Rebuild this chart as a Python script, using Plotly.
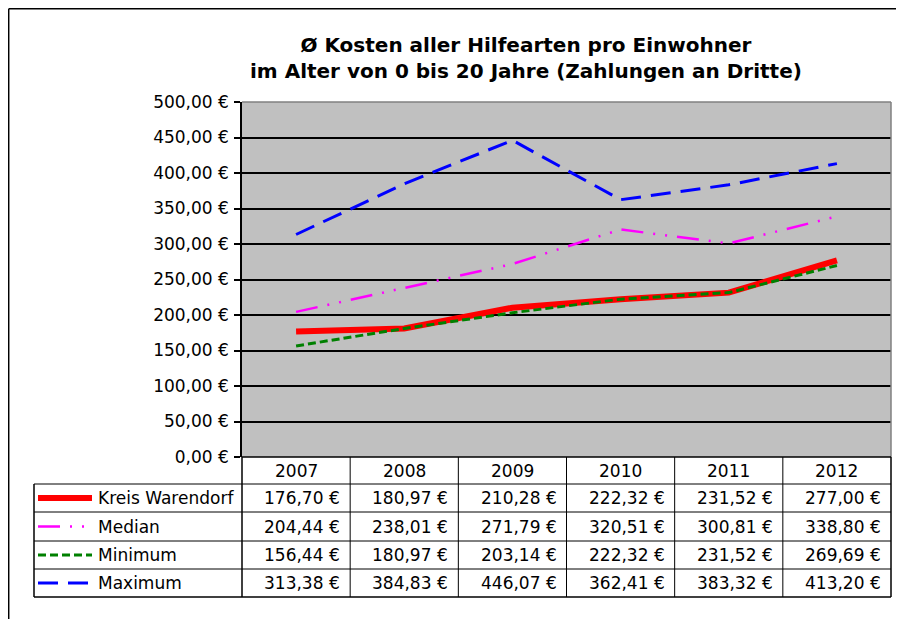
import plotly.graph_objects as go

# the page body adds an 8px offset; the figure is sized to fit the window
OFF = 8
W, H = 904 - OFF, 619 - OFF

years = ["2007", "2008", "2009", "2010", "2011", "2012"]
series_names = ["Kreis Warendorf", "Median", "Minimum", "Maximum"]
kreis_warendorf = [176.70, 180.97, 210.28, 222.32, 231.52, 277.00]
median = [204.44, 238.01, 271.79, 320.51, 300.81, 338.80]
minimum = [156.44, 180.97, 203.14, 222.32, 231.52, 269.69]
maximum = [313.38, 384.83, 446.07, 362.41, 383.32, 413.20]
y_ticks = [0, 50, 100, 150, 200, 250, 300, 350, 400, 450, 500]
title_lines = ["Ø Kosten aller Hilfearten pro Einwohner",
               "im Alter von 0 bis 20 Jahre (Zahlungen an Dritte)"]

FONT = "DejaVu Sans"


def eur(v):
    s = f"{v:,.2f}".replace(",", "X").replace(".", ",").replace("X", ".")
    return s + " €"


def px(x):
    return (x - OFF) / W


def py(y):
    return 1 - (y - OFF) / H


styles = [
    dict(color="#FF0000", width=6, dash="solid"),
    dict(color="#FF00FF", width=2.5, dash="22px,10px,2px,10px,2px,10px"),
    dict(color="#008000", width=3, dash="8px,4px"),
    dict(color="#0000FF", width=3, dash="20px,10px"),
]
all_series = [kreis_warendorf, median, minimum, maximum]
draw_order = [3, 1, 0, 2]

x_idx = list(range(len(years)))

fig = go.Figure()
for i in draw_order:
    fig.add_trace(go.Scatter(
        x=x_idx, y=all_series[i], mode="lines", name=series_names[i],
        line=styles[i], showlegend=False, hoverinfo="skip"))

# plot area geometry (screen pixels of the reference)
PL, PR, PT, PB = 242, 891, 102, 457
row_edges = [457, 484, 512, 541, 569, 597]
TL = 34

shapes = []
annotations = []

# outer frame
shapes.append(dict(type="line", xref="paper", yref="paper", x0=px(8.7), x1=1.01, y0=py(8.7), y1=py(8.7),
                   line=dict(color="#000000", width=1.5)))
shapes.append(dict(type="line", xref="paper", yref="paper", x0=px(8.7), x1=px(8.7), y0=py(8.7), y1=-0.01,
                   line=dict(color="#000000", width=1.5)))

# plot area right/top border (gray)
shapes.append(dict(type="line", xref="paper", yref="paper", x0=px(PR), x1=px(PR), y0=py(PT), y1=py(PB),
                   line=dict(color="#808080", width=1.5)))
shapes.append(dict(type="line", xref="paper", yref="paper", x0=px(PL), x1=px(PR), y0=py(PT), y1=py(PT),
                   line=dict(color="#808080", width=1.5)))

# table horizontal lines
for k, ye in enumerate(row_edges):
    x0 = PL if k == 0 else TL
    shapes.append(dict(type="line", xref="paper", yref="paper", x0=px(x0), x1=px(PR), y0=py(ye), y1=py(ye),
                       line=dict(color="#000000", width=1.5 if k in (0, len(row_edges) - 1) else 1)))
# table vertical lines
shapes.append(dict(type="line", xref="paper", yref="paper", x0=px(TL), x1=px(TL),
                   y0=py(row_edges[1]), y1=py(row_edges[-1]), line=dict(color="#000000", width=1.5)))
shapes.append(dict(type="line", xref="paper", yref="paper", x0=px(PL), x1=px(PL),
                   y0=py(PB), y1=py(row_edges[-1]), line=dict(color="#000000", width=1.5)))
shapes.append(dict(type="line", xref="paper", yref="paper", x0=px(PR), x1=px(PR),
                   y0=py(PB), y1=py(row_edges[-1]), line=dict(color="#000000", width=1.5)))
for i in range(1, len(years)):
    shapes.append(dict(type="line", xref="x", yref="paper", x0=i - 0.5, x1=i - 0.5,
                       y0=py(PB), y1=py(row_edges[-1]), line=dict(color="#000000", width=1)))

# header row (years)
hc = (row_edges[0] + row_edges[1]) / 2
for i, yr in enumerate(years):
    annotations.append(dict(x=i, y=py(hc), xref="x", yref="paper", text=yr, showarrow=False,
                            xanchor="center", yanchor="middle",
                            font=dict(family=FONT, size=17, color="#000000")))

# data rows
for r, (name, vals) in enumerate(zip(series_names, all_series)):
    rc = (row_edges[r + 1] + row_edges[r + 2]) / 2
    st = styles[r]
    shapes.append(dict(type="line", xref="paper", yref="paper", x0=px(38), x1=px(92),
                       y0=py(rc), y1=py(rc),
                       line=dict(color=st["color"], width=st["width"], dash=st["dash"])))
    annotations.append(dict(x=px(96), y=py(rc), xref="paper", yref="paper", text=name, showarrow=False,
                            xanchor="left", yanchor="middle",
                            font=dict(family=FONT, size=17, color="#000000")))
    for i, v in enumerate(vals):
        annotations.append(dict(x=i + 0.5, y=py(rc), xref="x", yref="paper", text=eur(v), showarrow=False,
                                xanchor="right", yanchor="middle", xshift=-8,
                                font=dict(family=FONT, size=17, color="#000000")))

# title
annotations.append(dict(x=px(526), y=py(58), xref="paper", yref="paper",
                        text="<b>" + "<br>".join(title_lines) + "</b>", showarrow=False,
                        xanchor="center", yanchor="middle", align="center",
                        font=dict(family=FONT, size=20, color="#000000")))

fig.update_layout(
    width=W, height=H, autosize=False,
    margin=dict(l=0, r=0, t=0, b=0, autoexpand=False),
    paper_bgcolor="#FFFFFF", plot_bgcolor="#C0C0C0",
    font=dict(family=FONT, size=17, color="#000000"),
    shapes=shapes, annotations=annotations,
    xaxis=dict(domain=[px(PL), px(PR)], range=[-0.5, len(years) - 0.5], showgrid=False,
               showticklabels=False, zeroline=False, showline=False, fixedrange=True,
               automargin=False),
    yaxis=dict(domain=[py(PB), py(PT)], range=[0, 500], tickvals=y_ticks,
               ticktext=[eur(v) for v in y_ticks], showgrid=True, gridcolor="#000000", gridwidth=1.5,
               zeroline=False, showline=True, linecolor="#000000", linewidth=1.5,
               ticks="outside", ticklen=6, tickcolor="#000000", tickwidth=1.5,
               ticklabelstandoff=2, tickfont=dict(family=FONT, size=17, color="#000000"),
               fixedrange=True, automargin=False),
)

fig.write_html("out.html")
